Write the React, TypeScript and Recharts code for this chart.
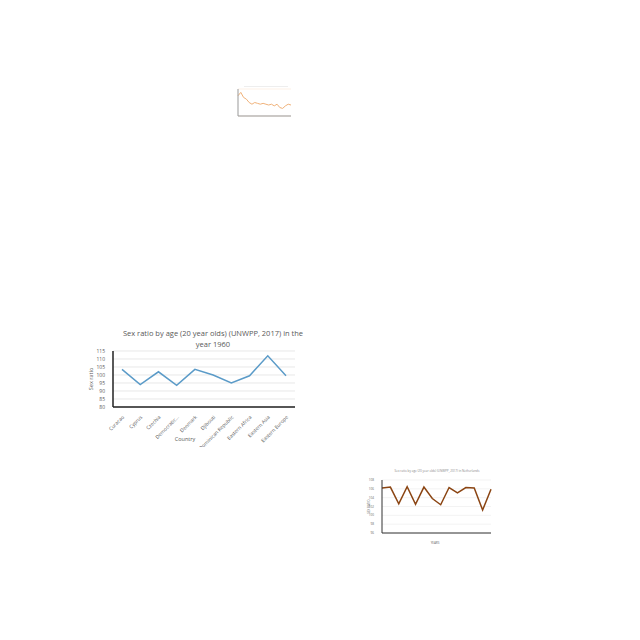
import React from 'react';
import { LineChart, Line, XAxis, YAxis, CartesianGrid, Label } from 'recharts';

const countries = ['Curacao', 'Cyprus', 'Czechia', 'Democratic...', 'Denmark', 'Djibouti', 'Dominican Republic', 'Eastern Africa', 'Eastern Asia', 'Eastern Europe'];
const ratio1960 = [103.5, 94, 102, 93.5, 103.5, 100, 95, 99.5, 112, 99.5];
const mainTicks = [80, 85, 90, 95, 100, 105, 110, 115];

const nlYears = ['1955', '1957', '1959', '1975', '1980', '1981', '1982', '1983', '1984', '1985', '1986', '1987', '1988', '1989'];
const nlRatio = [106.2, 106.4, 102.6, 106.5, 102.5, 106.4, 103.8, 102.4, 106.3, 105.1, 106.3, 106.2, 101.2, 105.9];
const nlTicks = [96, 98, 100, 102, 104, 106, 108];

const topYears = ['1', '2', '3', '4', '5', '6', '7', '8', '9', '10', '11', '12', '13', '14', '15', '16', '17', '18', '19', '20'];
const topRatio = [108, 110, 107, 106, 104, 103, 104, 103.5, 103, 103.5, 103, 102.5, 103, 102, 103, 101, 100.5, 102, 103, 102.5];

const mainData = countries.map((c, i) => ({ c, v: ratio1960[i] }));
const nlData = nlYears.map((y, i) => ({ y, v: nlRatio[i] }));
const topData = topYears.map((y, i) => ({ y, v: topRatio[i] }));

const font = 'Open Sans, sans-serif';

export default function App() {
  return (
    <div style={{ position: 'fixed', left: 0, top: 0, width: 640, height: 640, background: '#fff', fontFamily: font }}>
      <div style={{ position: 'absolute', left: 244, top: 86, width: 44, height: 0.6, background: '#eee' }} />
      <div style={{ position: 'absolute', left: 228, top: 86 }}>
        <LineChart width={66} height={36} data={topData} margin={{ top: 3, right: 3, left: 0, bottom: 4 }}>
          <CartesianGrid vertical={false} stroke="#fbe3cf" strokeWidth={0.5} />
          <XAxis dataKey="y" tick={false} stroke="#999" height={2} />
          <YAxis domain={[96, 112]} tick={false} width={10} stroke="#999" />
          <Line dataKey="v" stroke="#f0b27a" strokeWidth={1} dot={false} isAnimationActive={false} />
        </LineChart>
      </div>

      <div style={{ position: 'absolute', left: 118, top: 328, width: 190, textAlign: 'center', fontSize: 7.5, color: '#595959', lineHeight: '11px' }}>
        Sex ratio by age (20 year olds) (UNWPP, 2017) in the year 1960
      </div>
      <div style={{ position: 'absolute', left: 85, top: 347 }}>
        <LineChart width={215} height={100} data={mainData} margin={{ top: 4, right: 5, left: 0, bottom: 2 }}>
          <CartesianGrid vertical={false} stroke="#d9d9d9" strokeWidth={0.6} />
          <XAxis dataKey="c" interval={0} angle={-45} textAnchor="end" height={38} padding={{ left: 9, right: 9 }} tick={{ fontSize: 5, fill: '#595959' }} tickLine={false} stroke="#222" strokeWidth={1.5} />
          <YAxis domain={[80, 115]} ticks={mainTicks} interval={0} width={28} tick={{ fontSize: 5, fill: '#595959' }} tickLine={false} stroke="#222" strokeWidth={1.5}>
            <Label value="Sex ratio" angle={-90} position="insideLeft" offset={6} style={{ fontSize: 5.5, fill: '#595959', textAnchor: 'middle' }} />
          </YAxis>
          <Line dataKey="v" stroke="#5b9bc8" strokeWidth={1.5} dot={false} isAnimationActive={false} />
        </LineChart>
      </div>
      <div style={{ position: 'absolute', left: 170, top: 435, width: 30, textAlign: 'center', fontSize: 5.5, color: '#595959' }}>Country</div>

      <div style={{ position: 'absolute', left: 372, top: 469, width: 130, textAlign: 'center', fontSize: 3, color: '#888' }}>
        Sex ratio by age (20 year olds) (UNWPP, 2017) in Netherlands
      </div>
      <div style={{ position: 'absolute', left: 365, top: 477 }}>
        <LineChart width={130} height={64} data={nlData} margin={{ top: 3, right: 4, left: 0, bottom: 0 }}>
          <CartesianGrid vertical={false} stroke="#e6e6e6" strokeWidth={0.5} />
          <XAxis dataKey="y" interval={0} height={8} tick={{ fontSize: 2.5, fill: '#666' }} tickLine={false} stroke="#333" />
          <YAxis domain={[96, 108]} ticks={nlTicks} interval={0} width={17} tick={{ fontSize: 3, fill: '#666' }} tickLine={false} stroke="#333">
            <Label value="SEX RATIO" angle={-90} position="insideLeft" offset={4} style={{ fontSize: 3, fill: '#666', textAnchor: 'middle' }} />
          </YAxis>
          <Line dataKey="v" stroke="#8b4513" strokeWidth={1.5} dot={false} isAnimationActive={false} />
        </LineChart>
      </div>
      <div style={{ position: 'absolute', left: 425, top: 541, width: 20, textAlign: 'center', fontSize: 3, color: '#666' }}>YEARS</div>
    </div>
  );
}
